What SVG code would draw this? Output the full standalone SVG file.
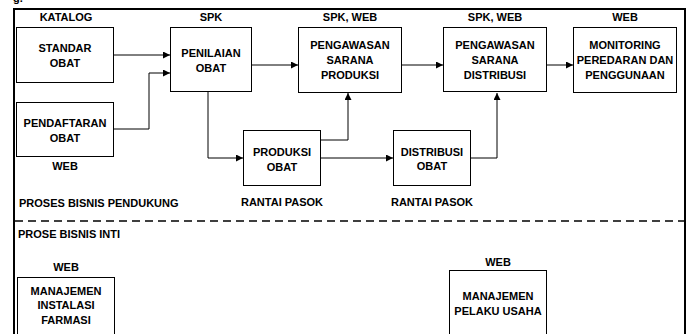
<svg xmlns="http://www.w3.org/2000/svg" width="691" height="334" viewBox="0 0 691 334">
<style>
text{font-family:"Liberation Sans",Arial,sans-serif;font-weight:bold;font-size:11px;fill:#000;text-anchor:middle}
.l{text-anchor:start}
.box{fill:#fff;stroke:#000;stroke-width:1}
.c{fill:none;stroke:#000;stroke-width:1}
</style>
<defs>
<marker id="ah" viewBox="0 0 10 10" refX="10" refY="5" markerWidth="7" markerHeight="7" markerUnits="userSpaceOnUse" orient="auto">
<path d="M0,0 L10,5 L0,10 z" fill="#000"/>
</marker>
</defs>
<rect width="691" height="334" fill="#fff"/>
<text class="l" x="13" y="2">g.</text>
<g id="frame">
<path d="M14,340 V9 H685 V340" fill="none" stroke="#000" stroke-width="2"/>
<line x1="15" y1="221" x2="684" y2="221" stroke="#000" stroke-width="1.5" stroke-dasharray="8,5"/>
</g>
<g id="connectors">
<path class="c" d="M114,55 H170" marker-end="url(#ah)"/>
<path class="c" d="M114,129 H149 V73 H170" marker-end="url(#ah)"/>
<path class="c" d="M252,65 H298" marker-end="url(#ah)"/>
<path class="c" d="M402,65 H443" marker-end="url(#ah)"/>
<path class="c" d="M547,65 H573" marker-end="url(#ah)"/>
<path class="c" d="M208,92 V158 H243" marker-end="url(#ah)"/>
<path class="c" d="M321,140 H348 V93" marker-end="url(#ah)"/>
<path class="c" d="M321,158 H393" marker-end="url(#ah)"/>
<path class="c" d="M471,158 H497 V93" marker-end="url(#ah)"/>
</g>
<g id="standar-obat">
<text x="66" y="21">KATALOG</text>
<rect class="box" x="16.5" y="27.5" width="97" height="55"/>
<text x="65" y="52">STANDAR</text><text x="65" y="67">OBAT</text>
</g>
<g id="pendaftaran-obat">
<rect class="box" x="16.5" y="102.5" width="97" height="54"/>
<text x="65" y="127">PENDAFTARAN</text><text x="65" y="142">OBAT</text>
<text x="65" y="170">WEB</text>
</g>
<g id="penilaian-obat">
<text x="211" y="21">SPK</text>
<rect class="box" x="170.5" y="27.5" width="81" height="64"/>
<text x="211" y="57">PENILAIAN</text><text x="211" y="72">OBAT</text>
</g>
<g id="pengawasan-produksi">
<text x="350" y="21">SPK, WEB</text>
<rect class="box" x="298.5" y="27.5" width="103" height="65"/>
<text x="350" y="49">PENGAWASAN</text><text x="350" y="64">SARANA</text><text x="350" y="79">PRODUKSI</text>
</g>
<g id="pengawasan-distribusi">
<text x="495" y="21">SPK, WEB</text>
<rect class="box" x="443.5" y="27.5" width="103" height="64"/>
<text x="495" y="49">PENGAWASAN</text><text x="495" y="64">SARANA</text><text x="495" y="79">DISTRIBUSI</text>
</g>
<g id="monitoring">
<text x="625" y="21">WEB</text>
<rect class="box" x="573.5" y="27.5" width="103" height="65"/>
<text x="625" y="49">MONITORING</text><text x="625" y="64">PEREDARAN DAN</text><text x="625" y="79">PENGGUNAAN</text>
</g>
<g id="produksi-obat">
<rect class="box" x="243.5" y="130.5" width="77" height="55"/>
<text x="282" y="156">PRODUKSI</text><text x="282" y="171">OBAT</text>
<text x="282" y="206">RANTAI PASOK</text>
</g>
<g id="distribusi-obat">
<rect class="box" x="393.5" y="130.5" width="77" height="55"/>
<text x="432" y="156">DISTRIBUSI</text><text x="432" y="170">OBAT</text>
<text x="432" y="206">RANTAI PASOK</text>
</g>
<g id="section-labels">
<text class="l" x="19" y="207">PROSES BISNIS PENDUKUNG</text>
<text class="l" x="18" y="238">PROSE BISNIS INTI</text>
</g>
<g id="manajemen-instalasi-farmasi">
<text x="66" y="271">WEB</text>
<rect class="box" x="17.5" y="277.5" width="97" height="60"/>
<text x="66" y="295">MANAJEMEN</text><text x="66" y="309">INSTALASI</text><text x="66" y="324">FARMASI</text>
</g>
<g id="manajemen-pelaku-usaha">
<text x="498" y="266">WEB</text>
<rect class="box" x="449.5" y="270.5" width="97" height="70"/>
<text x="498" y="300">MANAJEMEN</text><text x="498" y="315">PELAKU USAHA</text>
</g>
</svg>
